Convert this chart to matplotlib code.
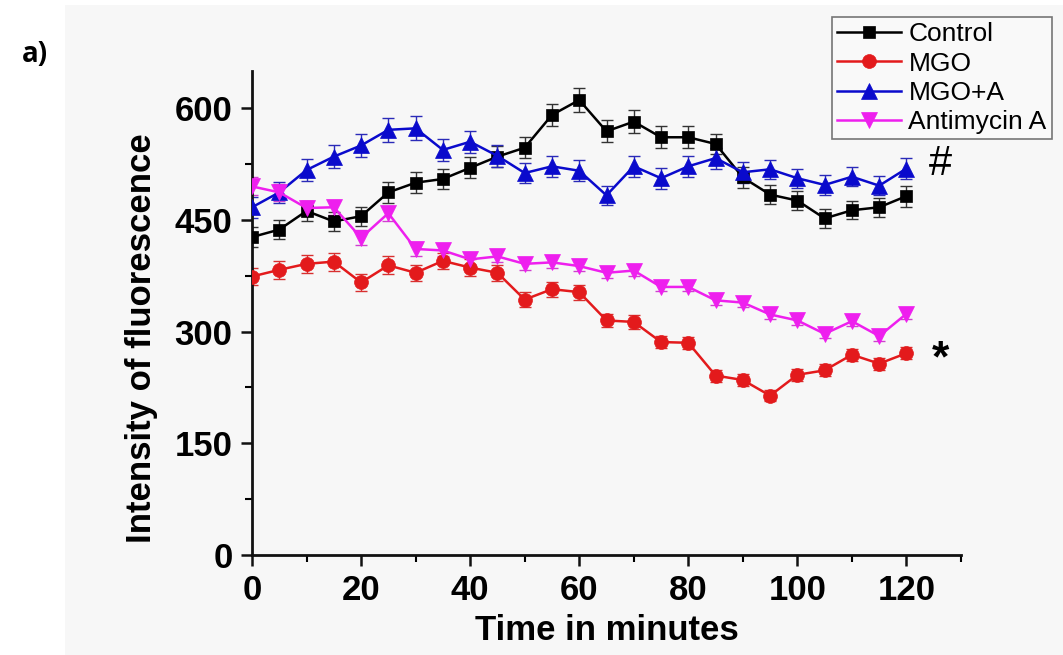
import matplotlib
matplotlib.use("Agg")
import matplotlib.pyplot as plt
from matplotlib.patches import Rectangle

plt.rcParams['font.family'] = ['Liberation Sans', 'DejaVu Sans']

time = [0, 5, 10, 15, 20, 25, 30, 35, 40, 45, 50, 55, 60,
        65, 70, 75, 80, 85, 90, 95, 100, 105, 110, 115, 120]

control = [427, 437, 462, 448, 455, 487, 500, 505, 520, 535, 547, 591, 611,
           569, 582, 561, 561, 552, 507, 484, 476, 452, 463, 467, 482]
control_err = [14, 13, 14, 13, 13, 14, 14, 13, 14, 14, 14, 15, 16,
               15, 15, 15, 15, 14, 14, 13, 13, 13, 12, 13, 14]

mgo = [374, 383, 391, 394, 366, 389, 379, 395, 386, 379, 343, 357, 353,
       315, 313, 286, 285, 241, 235, 214, 242, 248, 269, 257, 271]
mgo_err = [12, 12, 12, 12, 11, 12, 11, 11, 11, 11, 10, 10, 10,
           9, 9, 8, 8, 8, 8, 7, 8, 8, 8, 8, 8]

mgo_a = [467, 487, 517, 535, 550, 571, 573, 544, 555, 536, 513, 522, 516,
         483, 522, 506, 522, 533, 514, 518, 506, 497, 508, 496, 519]
mgo_a_err = [14, 14, 15, 15, 15, 16, 16, 15, 15, 15, 14, 14, 14,
             13, 14, 14, 14, 14, 14, 13, 13, 13, 13, 13, 14]

anti = [495, 487, 466, 467, 426, 459, 411, 409, 397, 401, 391, 393, 388,
        379, 382, 360, 360, 342, 339, 323, 315, 297, 314, 294, 324]
anti_err = [12, 11, 10, 10, 10, 10, 9, 8, 8, 8, 8, 7, 7,
            7, 7, 6, 6, 6, 6, 6, 6, 6, 6, 6, 7]

labels = ['Control', 'MGO', 'MGO+A', 'Antimycin A']

W, H = 1063, 655
fig = plt.figure(figsize=(W / 100, H / 100), dpi=100, facecolor='white')

# light grey scanned-page background
fig.patches.append(Rectangle((65 / W, 0), 1, 1 - 5 / H, transform=fig.transFigure,
                             facecolor='#f7f7f7', edgecolor='none', zorder=-10))

ax = fig.add_axes([252 / W, 1 - 555 / H, (961 - 252) / W, (555 - 71) / H])
ax.set_facecolor('none')

styles = [
    dict(data=control, err=control_err, color='#000000', ecolor='#333333', marker='s', ms=9),
    dict(data=mgo, err=mgo_err, color='#e31a1c', ecolor='#d83030', marker='o', ms=10),
    dict(data=mgo_a, err=mgo_a_err, color='#0a0acc', ecolor='#2a2ab8', marker='^', ms=11),
    dict(data=anti, err=anti_err, color='#ee1fee', ecolor='#d040d0', marker='v', ms=11),
]

handles = []
for st, lab in zip(styles, labels):
    ax.errorbar(time, st['data'], yerr=st['err'], fmt='none', ecolor=st['ecolor'],
                elinewidth=1.0, capsize=4.5, capthick=1.0, zorder=2)
    h, = ax.plot(time, st['data'], color=st['color'], marker=st['marker'],
                 markersize=st['ms'], linewidth=1.8, markeredgewidth=0.5,
                 markeredgecolor=st['color'], label=lab, zorder=3)
    handles.append(h)

ax.set_xlim(0, 130)
ax.set_ylim(0, 650)
ax.set_xticks([0, 20, 40, 60, 80, 100, 120])
ax.set_xticks([10, 30, 50, 70, 90, 110, 130], minor=True)
ax.set_yticks([0, 150, 300, 450, 600])
ax.set_yticks([75, 225, 375, 525], minor=True)

for s in ['top', 'right']:
    ax.spines[s].set_visible(False)
for s in ['left', 'bottom']:
    ax.spines[s].set_linewidth(2.0)
    ax.spines[s].set_color('#111111')

ax.tick_params(which='major', direction='out', length=8, width=1.8, pad=6,
               labelsize=25, colors='#111111')
ax.tick_params(which='minor', direction='out', length=5, width=1.5)
for t in ax.get_xticklabels() + ax.get_yticklabels():
    t.set_fontweight('bold')
    t.set_color('black')

ax.set_xlabel('Time in minutes', fontsize=25, fontweight='bold', labelpad=5)
ax.set_ylabel('Intensity of fluorescence', fontsize=25, fontweight='bold')
ax.yaxis.set_label_coords((158 - 252) / (961 - 252), (555 - 338) / (555 - 71))

ax.text(126.2, 525, '#', fontsize=30, ha='center', va='center', color='black')
ax.text(126.2, 262, '*', fontsize=32, fontweight='bold', ha='center', va='center', color='black')

leg = fig.legend(handles=handles, labels=labels, loc='upper right',
                 bbox_to_anchor=(1052 / W, 1 - 17 / H), fontsize=19,
                 handlelength=2.4, handletextpad=0.3, labelspacing=0.2,
                 borderpad=0.2, borderaxespad=0.0, fancybox=False, frameon=True)
leg.get_frame().set_edgecolor('#555555')
leg.get_frame().set_linewidth(1.2)
leg.get_frame().set_facecolor('#fafafa')

fig.text(35 / W, 1 - 55 / H, 'a)', fontsize=20, fontweight='bold',
         family=['Open Sans', 'DejaVu Sans'], ha='center', va='center')

fig.savefig('out.png', dpi=100, facecolor=fig.get_facecolor())
